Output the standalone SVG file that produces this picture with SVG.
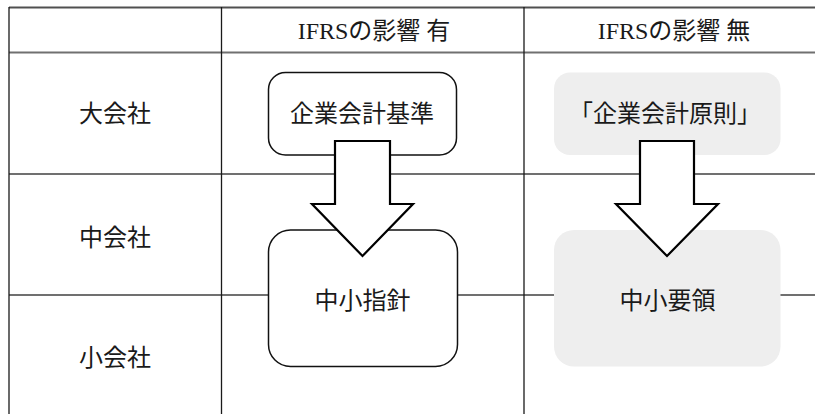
<svg xmlns="http://www.w3.org/2000/svg" width="815" height="414" viewBox="0 0 815 414">
<style>
.t{font-family:"Liberation Serif","Noto Sans CJK JP",serif;fill:#1a1a1a;text-anchor:middle}
.h{font-size:24px}
.b{font-size:24px}
.hl{stroke:#707070;stroke-width:2;fill:none}
.vl{stroke:#1a1a1a;stroke-width:1.3;fill:none}
.wbox{fill:#ffffff;stroke:#111;stroke-width:1.5}
.gbox{fill:#eeeeee;stroke:none}
.arr{fill:#ffffff;stroke:#000;stroke-width:2.2;stroke-linejoin:miter}
</style>
<rect width="815" height="414" fill="#ffffff"/>
<g id="grid">
<line class="hl" x1="9" y1="7.5" x2="815" y2="7.5" style="stroke:#505050"/>
<line class="hl" x1="9" y1="52.5" x2="815" y2="52.5"/>
<line class="hl" x1="9" y1="174" x2="815" y2="174"/>
<line class="hl" x1="9" y1="295" x2="815" y2="295"/>
<line class="vl" x1="9" y1="7" x2="9" y2="414"/>
<line class="vl" x1="221.5" y1="7" x2="221.5" y2="414"/>
<line class="vl" x1="524" y1="7" x2="524" y2="414"/>
</g>
<g id="headers">
<text class="t h" x="374" y="39">IFRSの影響 有</text>
<text class="t h" x="674" y="39">IFRSの影響 無</text>
<text class="t b" x="115" y="122">大会社</text>
<text class="t b" x="115" y="246">中会社</text>
<text class="t b" x="115" y="366">小会社</text>
</g>
<g id="node-kigyo-kaikei-kijun">
<rect class="wbox" x="268.5" y="72.5" width="188" height="82.5" rx="17"/>
<text class="t b" x="362" y="122">企業会計基準</text>
</g>
<g id="node-chusho-shishin">
<rect class="wbox" x="268.5" y="230" width="189" height="136.5" rx="22"/>
<text class="t b" x="362.5" y="309">中小指針</text>
</g>
<g id="node-kigyo-kaikei-gensoku">
<rect class="gbox" x="554" y="72.5" width="226.5" height="82.5" rx="16"/>
<text class="t b" x="665" y="122">「企業会計原則」</text>
</g>
<g id="node-chusho-yoryo">
<rect class="gbox" x="554" y="230" width="226.5" height="136.5" rx="20"/>
<text class="t b" x="667.5" y="309">中小要領</text>
</g>
<g id="connectors">
<polygon class="arr" points="335,141 390,141 390,204 413,204 362.5,256 312,204 335,204"/>
<polygon class="arr" points="640,141 694,141 694,204 718,204 667,256 616,204 640,204"/>
</g>
</svg>
